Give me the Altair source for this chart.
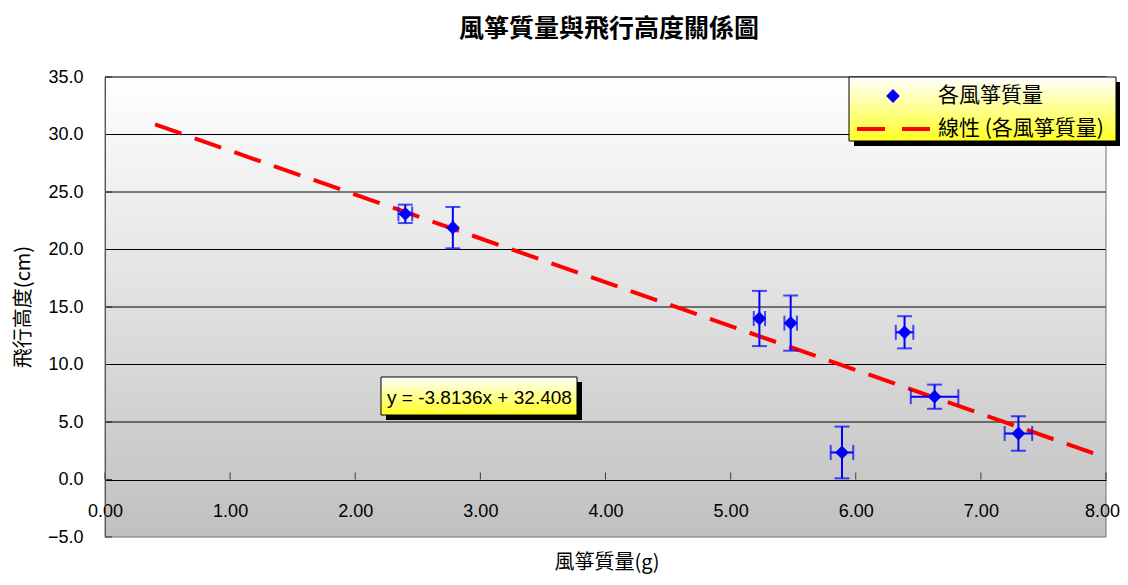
import altair as alt
import pandas as pd

# ---- data ----
mass = [2.40, 2.78, 5.23, 5.48, 5.89, 6.39, 6.63, 7.30]
height = [23.1, 21.9, 14.0, 13.6, 2.35, 12.8, 7.2, 4.0]
mass_err = [0.055, 0.0, 0.045, 0.05, 0.09, 0.07, 0.19, 0.11]
height_err = [0.8, 1.8, 2.4, 2.4, 2.25, 1.4, 1.05, 1.5]

trend_x = [0.4, 8.0]
trend_y = [30.88, 1.90]

x_ticks = [0, 1, 2, 3, 4, 5, 6, 7, 8]
y_ticks = [-5, 0, 5, 10, 15, 20, 25, 30, 35]
grid_vals = [5, 10, 15, 20, 25, 30, 35]

title_text = "風箏質量與飛行高度關係圖"
x_title = "風箏質量(g)"
y_title = "飛行高度(cm)"
legend_point = "各風箏質量"
legend_line = "線性 (各風箏質量)"
equation = "y = -3.8136x + 32.408"

W, H = 1001, 460
CJK = "Noto Sans CJK TC"
LAT = "Liberation Sans"

df = pd.DataFrame({"mass": mass, "height": height,
                   "mass_err": mass_err, "height_err": height_err})
df["ylo"] = df["height"] - df["height_err"]
df["yhi"] = df["height"] + df["height_err"]
df["xlo"] = df["mass"] - df["mass_err"]
df["xhi"] = df["mass"] + df["mass_err"]

trend = pd.DataFrame({"mass": trend_x, "height": trend_y})
xt = pd.DataFrame({"mass": x_ticks, "height": [0] * len(x_ticks)})
yt = pd.DataFrame({"height": y_ticks, "mass": [0] * len(y_ticks)})
gv = pd.DataFrame({"height": grid_vals})
one = pd.DataFrame({"a": [0]})

xs = alt.Scale(domain=[0, 8], nice=False, zero=False)
ys = alt.Scale(domain=[-5, 35], nice=False, zero=False)

xaxis = alt.Axis(values=x_ticks, format=".2f", offset=-57, ticks=False, tickSize=0,
                 labelPadding=31, labelBaseline="middle", grid=False,
                 domainColor="black", domainWidth=1, labelFontSize=18,
                 labelFont=LAT, labelColor="black", title=None,
                 labelFlush=False, labelOverlap=False, labelBound=False,
                 labelOffset={"condition": {"test": "datum.value >= 8", "value": -4},
                              "value": 0},
                 zindex=1)
yaxis = alt.Axis(values=y_ticks, format=".1f", ticks=False, tickSize=0,
                 labelPadding=22, grid=False, domainColor="#555555",
                 domainWidth=1, labelFontSize=18, labelFont=LAT,
                 labelColor="black", title=None, labelFlush=False,
                 labelOverlap=False, labelBound=False, zindex=1)


def X(f):
    return alt.X(f, scale=xs, axis=xaxis)


def Y(f):
    return alt.Y(f, scale=ys, axis=yaxis)


BLUE = "#0000ff"
RED = "#ff0000"

gray_grad = alt.Gradient(gradient="linear",
                         stops=[alt.GradientStop(color="#ffffff", offset=0),
                                alt.GradientStop(color="#c0c0c0", offset=1)],
                         x1=0, x2=0, y1=0, y2=1)
yellow_grad = alt.Gradient(gradient="linear",
                           stops=[alt.GradientStop(color="#ffffff", offset=0),
                                  alt.GradientStop(color="#ffff20", offset=1)],
                           x1=0, x2=0, y1=0, y2=1)

bg = alt.Chart(one).mark_rect(fill=gray_grad).encode(
    x=alt.value(0), x2=alt.value(W), y=alt.value(0), y2=alt.value(H))

grid = alt.Chart(gv).mark_rule(color="black", strokeWidth=1).encode(
    y=Y("height:Q"))

border = alt.Chart(one).mark_rect(fillOpacity=0, stroke="#707070", strokeWidth=1).encode(
    x=alt.value(0), x2=alt.value(W), y=alt.value(0), y2=alt.value(H))

xtick_marks = alt.Chart(xt).mark_tick(orient="vertical", size=7, thickness=1,
                                      color="black", yOffset=-3.5).encode(
    x=X("mass:Q"), y=Y("height:Q"))

ytick_marks = alt.Chart(yt).mark_tick(orient="horizontal", size=7, thickness=1,
                                      color="black", xOffset=3.5).encode(
    x=X("mass:Q"), y=Y("height:Q"))

trend_line = alt.Chart(trend).mark_line(color=RED, strokeWidth=4,
                                        strokeDash=[28, 14], strokeCap="butt").encode(
    x=X("mass:Q"), y=Y("height:Q"))

base = alt.Chart(df)
ybar = base.mark_rule(color=BLUE, strokeWidth=2).encode(
    x=X("mass:Q"), y=Y("ylo:Q"), y2="yhi:Q")
xbar = base.mark_rule(color=BLUE, strokeWidth=2).encode(
    y=Y("height:Q"), x=X("xlo:Q"), x2="xhi:Q")
ycap_lo = base.mark_tick(orient="horizontal", size=15, thickness=2, color=BLUE).encode(
    x=X("mass:Q"), y=Y("ylo:Q"))
ycap_hi = base.mark_tick(orient="horizontal", size=15, thickness=2, color=BLUE).encode(
    x=X("mass:Q"), y=Y("yhi:Q"))
xcap_lo = base.mark_tick(orient="vertical", size=15, thickness=2, color=BLUE).encode(
    x=X("xlo:Q"), y=Y("height:Q"))
xcap_hi = base.mark_tick(orient="vertical", size=15, thickness=2, color=BLUE).encode(
    x=X("xhi:Q"), y=Y("height:Q"))

points = base.mark_point(shape="diamond", filled=True, size=190, color=BLUE, opacity=1).encode(
    x=X("mass:Q"), y=Y("height:Q"))

# legend box (custom)
LX0, LX1, LY0, LY1 = 744, 1011, 0, 64
leg_shadow = alt.Chart(one).mark_rect(color="black").encode(
    x=alt.value(LX0 + 5), x2=alt.value(LX1 + 5), y=alt.value(LY0 + 5), y2=alt.value(LY1 + 5))
leg_box = alt.Chart(one).mark_rect(fill=yellow_grad, stroke="black", strokeWidth=1).encode(
    x=alt.value(LX0), x2=alt.value(LX1), y=alt.value(LY0), y2=alt.value(LY1))
leg_pt = alt.Chart(one).mark_point(shape="diamond", filled=True, size=190, color=BLUE, opacity=1).encode(
    x=alt.value(788), y=alt.value(19))
leg_ln = alt.Chart(one).mark_rule(color=RED, strokeWidth=4, strokeDash=[28, 17]).encode(
    x=alt.value(752), x2=alt.value(825), y=alt.value(52))
leg_t1 = alt.Chart(one).mark_text(align="left", baseline="middle", font=CJK,
                                  fontSize=21, color="black").encode(
    x=alt.value(833), y=alt.value(19), text=alt.value(legend_point))
leg_t2 = alt.Chart(one).mark_text(align="left", baseline="middle", font=CJK,
                                  fontSize=21, color="black").encode(
    x=alt.value(833), y=alt.value(52), text=alt.value(legend_line))

# equation box
EX0, EX1, EY0, EY1 = 276, 472, 300, 338
eq_shadow = alt.Chart(one).mark_rect(color="black").encode(
    x=alt.value(EX0 + 5), x2=alt.value(EX1 + 5), y=alt.value(EY0 + 5), y2=alt.value(EY1 + 5))
eq_box = alt.Chart(one).mark_rect(fill=yellow_grad, stroke="black", strokeWidth=1).encode(
    x=alt.value(EX0), x2=alt.value(EX1), y=alt.value(EY0), y2=alt.value(EY1))
eq_text = alt.Chart(one).mark_text(align="left", baseline="middle", font=LAT,
                                   fontSize=19, color="black").encode(
    x=alt.value(282), y=alt.value(321), text=alt.value(equation))

# titles
t_main = alt.Chart(one).mark_text(align="center", baseline="middle", font=CJK,
                                  fontSize=25, fontWeight="bold", color="black").encode(
    x=alt.value(504), y=alt.value(-48), text=alt.value(title_text))
t_x = alt.Chart(one).mark_text(align="center", baseline="middle", font=CJK,
                               fontSize=20, color="black").encode(
    x=alt.value(502), y=alt.value(486), text=alt.value(x_title))
t_y = alt.Chart(one).mark_text(align="center", baseline="middle", font=CJK,
                               fontSize=20, color="black", angle=270).encode(
    x=alt.value(-81), y=alt.value(230), text=alt.value(y_title))

chart = alt.layer(
    bg, grid, border, xtick_marks, ytick_marks, trend_line,
    ybar, xbar, ycap_lo, ycap_hi, xcap_lo, xcap_hi, points,
    leg_shadow, leg_box, leg_pt, leg_ln, leg_t1, leg_t2,
    eq_shadow, eq_box, eq_text, t_main, t_x, t_y
).properties(
    width=W, height=H,
    autosize=alt.AutoSizeParams(type="none"),
    padding={"left": 97, "top": 69, "right": 14, "bottom": 40},
    background="white"
).configure_view(stroke=None)

chart.save("out.html", embed_options={"renderer": "svg", "actions": False})
